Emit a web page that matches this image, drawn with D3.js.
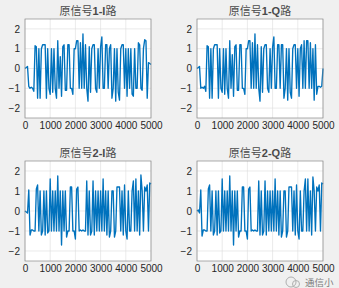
<!DOCTYPE html>
<html>
<head>
<meta charset="utf-8">
<script src="https://cdn.jsdelivr.net/npm/d3@7"></script>
<style>
  body { margin: 0; background: #f0f0f0; }
  svg { display: block; }
</style>
</head>
<body>
<div id="chart"></div>
<script>
// sample step of the signals (samples between listed values)
const step = 50

const xTicks = [0, 1000, 2000, 3000, 4000, 5000]
const yTicks = [-2, -1, 0, 1, 2]

const titles = ['1-I', '1-Q', '2-I', '2-Q']

const sig1I = [0, 0.05, 0.1, -0.9, -1.0, -0.95, -1.0, -1.15, 1.15, 1.1,
  -1.5, 1.0, -1.5, 1.0, 1.2, 1.2, 1.2, -1.5, 1.0, -1.0,
  -1.3, 1.0, -1.2, 1.0, -1.0, -1.5, 1.4, -1.0, 0.6, -1.4,
  1.1, 1.2, -1.1, -1.1, 1.2, 1.2, -1.0, -1.0, -1.3, 1.0,
  1.0, 1.4, 1.4, -1.0, 1.3, -1.0, 1.75, -1.0, 1.2, -1.0,
  -1.65, 1.1, -1.2, 1.0, 1.2, 1.2, -1.0, -1.2, 1.0, -1.0,
  1.1, 1.6, -1.0, -1.0, 1.2, 1.2, -1.0, 1.0, 1.2, -1.5,
  -1.0, 1.0, -1.65, 1.0, -1.2, -1.6, 1.0, 1.2, 1.2, -1.0,
  1.0, -1.4, 1.0, -1.0, 1.0, -1.3, -1.4, 1.0, -1.0, -1.0,
  1.3, 1.2, -1.0, -1.1, 1.0, 1.45, 1.4, -1.5, 0.3, 0.25, 0.2]

const sig1Q = [0, 0.05, 0.1, -1.0, -0.95, -1.0, -0.9, -1.15, 1.15, 1.1,
  -1.5, 1.0, -1.5, 1.0, 1.2, 1.2, 1.2, -1.5, 1.0, -1.0,
  -1.2, 1.0, -1.3, 1.0, -1.0, -1.5, 1.4, -1.0, 0.7, -1.4,
  1.1, 1.2, -1.1, -1.1, 1.2, 1.2, -1.0, -1.0, -1.3, 1.0,
  1.0, 1.4, 1.4, -1.0, 1.3, -1.0, 1.75, -1.0, 1.2, -1.0,
  -1.65, 1.1, -1.2, 1.0, 1.2, 1.2, -1.0, -1.2, 1.0, -1.0,
  1.1, 1.6, -1.0, -1.0, 1.2, 1.2, -1.0, 1.2, 1.2, -1.5,
  -1.0, 1.0, -1.6, 1.0, -1.2, -1.5, 1.0, 1.2, 1.2, -1.0,
  1.0, -1.4, 1.0, 1.2, -1.0, 1.4, -1.0, 1.4, 1.4, -1.0,
  1.3, -1.0, 1.0, -1.6, 1.2, -1.3, -0.9, -0.9, -0.95, -0.9, 0]

const sig2I = [0, -0.05, -0.1, 1.05, -1.2, -0.95, -0.95, -1.0, -1.0, 1.1,
  1.3, -1.0, 1.0, -1.2, -1.0, 1.0, -1.2, 1.0, -1.1, -1.0,
  1.6, -1.0, 1.0, -1.0, 1.0, -1.0, 1.75, -1.0, 1.0, -1.7,
  1.0, -1.0, 1.0, -1.3, -1.0, -1.0, 1.2, 1.2, -1.0, -1.0,
  -1.4, 1.1, 1.2, -1.0, -0.95, -1.0, -0.95, -1.0, -1.0, 1.5,
  -1.2, 1.0, -1.2, -1.0, 1.5, -1.2, 1.0, -1.0, 1.0, -1.0,
  1.0, -1.0, 1.6, -1.0, 1.0, -1.2, 1.0, -1.3, -1.0, 1.0,
  1.0, -1.3, -1.0, 1.2, 1.2, 1.2, -1.0, 1.0, -1.2, 1.3,
  -1.0, -1.4, 1.0, -1.0, -1.0, 1.0, 1.5, -1.0, 1.6, -1.0,
  1.0, -1.2, 1.8, 1.0, -1.0, 1.2, 1.0, 1.3, -1.0, 1.4, 1.35]

const sig2Q = [0, 0.05, -0.1, 1.05, -1.25, -0.95, -0.95, -1.0, -1.0, 1.1,
  1.3, -1.0, 1.0, -1.2, -1.0, 1.0, -1.2, 1.0, -1.1, -1.0,
  1.6, -1.0, 1.0, -1.0, 1.0, -1.0, 1.75, -1.0, 1.0, -1.7,
  1.0, -1.0, 1.0, -1.3, -1.0, -1.0, 1.2, 1.2, -1.0, -1.0,
  -1.4, 1.1, 1.2, -1.0, -0.95, -1.0, -0.95, -1.0, -1.0, 1.5,
  -1.2, 1.0, -1.2, -1.0, 1.5, -1.2, 1.0, -1.0, 1.0, -1.0,
  1.0, -1.0, 1.6, -1.0, 1.0, -1.2, 1.0, -1.3, -1.0, 1.0,
  1.0, -1.3, -1.0, 1.2, 1.2, 1.2, -1.0, 1.0, -1.2, 1.3,
  -1.0, -1.4, 1.0, -1.0, -1.0, 1.0, 1.6, -1.0, 1.6, -1.0,
  1.0, -1.2, 1.7, 1.0, -1.0, 1.2, 1.0, 1.3, -1.0, 1.4, 1.35]

const signals = [sig1I, sig1Q, sig2I, sig2Q]

const width = 339
const height = 288

const panels = [
  { left: 25, top: 19, right: 151, bottom: 118 },
  { left: 197, top: 19, right: 323, bottom: 118 },
  { left: 25, top: 161, right: 151, bottom: 261 },
  { left: 197, top: 161, right: 323, bottom: 261 }
]

const svg = d3
  .select('#chart')
  .append('svg')
  .attr('width', width)
  .attr('height', height)

svg.append('rect')
  .attr('width', width)
  .attr('height', height)
  .attr('fill', '#f0f0f0')

panels.forEach(function(p, k) {
  const x = d3.scaleLinear().domain([0, 5000]).range([p.left, p.right])
  const y = d3.scaleLinear().domain([-2.5, 2.5]).range([p.bottom, p.top])

  const g = svg.append('g')

  g.append('rect')
    .attr('x', p.left)
    .attr('y', p.top)
    .attr('width', p.right - p.left)
    .attr('height', p.bottom - p.top)
    .attr('fill', '#fff')

  // grid
  g.selectAll('.gx')
    .data(xTicks)
    .enter()
    .append('line')
    .attr('x1', d => x(d))
    .attr('x2', d => x(d))
    .attr('y1', p.top)
    .attr('y2', p.bottom)
    .attr('stroke', '#dcdcdc')
    .attr('stroke-width', 0.6)

  g.selectAll('.gy')
    .data(yTicks)
    .enter()
    .append('line')
    .attr('x1', p.left)
    .attr('x2', p.right)
    .attr('y1', d => y(d))
    .attr('y2', d => y(d))
    .attr('stroke', '#dcdcdc')
    .attr('stroke-width', 0.6)

  // signal
  const line = d3.line()
    .x((d, i) => x(i * step))
    .y(d => y(d))

  g.append('path')
    .datum(signals[k])
    .attr('d', line)
    .attr('fill', 'none')
    .attr('stroke', '#0072bd')
    .attr('stroke-width', 1.35)
    .attr('stroke-linejoin', 'round')

  // box
  g.append('rect')
    .attr('x', p.left)
    .attr('y', p.top)
    .attr('width', p.right - p.left)
    .attr('height', p.bottom - p.top)
    .attr('fill', 'none')
    .attr('stroke', '#8a8a8a')
    .attr('stroke-width', 0.7)

  // axes
  const xAxis = d3.axisBottom(x).tickValues(xTicks).tickSize(0).tickPadding(4)
    .tickFormat(d3.format('d'))
  const yAxis = d3.axisLeft(y).tickValues(yTicks).tickSize(0).tickPadding(5)
    .tickFormat(d3.format('d'))

  const gx = g.append('g')
    .attr('transform', 'translate(0,' + p.bottom + ')')
    .call(xAxis)
  const gy = g.append('g')
    .attr('transform', 'translate(' + p.left + ',0)')
    .call(yAxis)

  ;[gx, gy].forEach(function(a) {
    a.select('.domain').remove()
    a.selectAll('text')
      .attr('fill', '#262626')
      .style('font-family', 'Liberation Sans, Arial, sans-serif')
      .style('font-size', '10px')
  })

  // title
  const t = g.append('text')
    .attr('x', (p.left + p.right) / 2)
    .attr('y', p.top - 4)
    .attr('text-anchor', 'middle')
    .attr('fill', '#4a4a4a')
    .style('font-size', '11px')
  t.append('tspan')
    .style('font-family', 'Noto Sans CJK SC')
    .text('原信号')
  t.append('tspan')
    .style('font-family', 'Liberation Sans, Arial, sans-serif')
    .style('font-weight', 'bold')
    .text(titles[k])
  t.append('tspan')
    .style('font-family', 'Noto Sans CJK SC')
    .text('路')
})

// watermark in the corner
const wm = svg.append('g').attr('opacity', 0.75)
wm.append('circle')
  .attr('cx', 291).attr('cy', 282).attr('r', 5)
  .attr('fill', 'none').attr('stroke', '#9a9a9a').attr('stroke-width', 1)
wm.append('circle')
  .attr('cx', 296).attr('cy', 284).attr('r', 3.5)
  .attr('fill', 'none').attr('stroke', '#9a9a9a').attr('stroke-width', 1)
wm.append('text')
  .attr('x', 305)
  .attr('y', 285.5)
  .attr('fill', '#555')
  .style('font-family', 'Noto Sans CJK SC')
  .style('font-size', '9.5px')
  .text('通信小')
</script>
</body>
</html>
